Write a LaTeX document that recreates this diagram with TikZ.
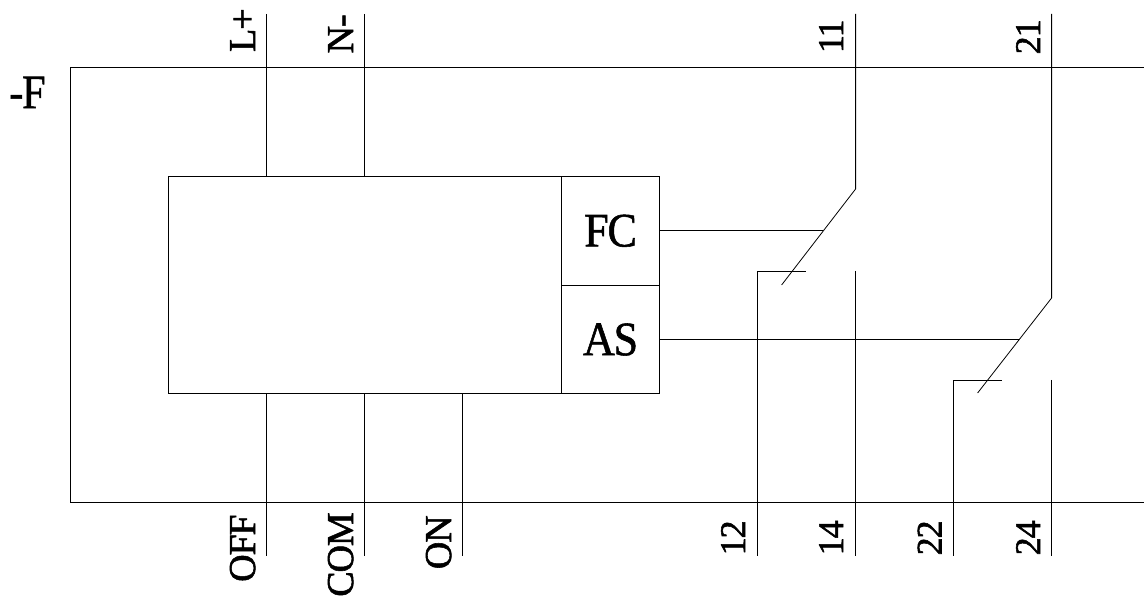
\documentclass[tikz,border=0pt]{standalone}
\usepackage{fontspec}
\setmainfont[LetterSpace=-3]{Liberation Serif}
\newcommand\fattxt[1]{\special{pdf:code q 2 Tr 0.55 w}#1\special{pdf:code Q}}
\begin{document}
\begin{tikzpicture}[x=1pt,y=-1pt,line width=0.8pt,
 big/.style={inner sep=0pt,font=\fontsize{48}{48}\selectfont},
 vl/.style={inner sep=0pt,font=\fontsize{38}{38}\selectfont,rotate=90,anchor=base east},
 vd/.style={inner sep=0pt,font=\fontsize{36}{36}\selectfont,rotate=90,anchor=base east},
 boxx/.style={draw,inner sep=0pt,anchor=north west}]
\useasboundingbox[fill=white] (0,0) rectangle (1144,601);
% frame
\coordinate (fa) at (1144,67.5);
\coordinate (fb) at (70.7,67.5);
\coordinate (fc) at (70.7,502.3);
\coordinate (fd) at (1144,502.3);
\draw (fa) -- (fb) -- (fc) -- (fd);
\node[big] (F) at (27.5,92.5) {\fattxt{\scalebox{.88}[1]{-F}}};
% boxes
\node[boxx,minimum width=392.7pt,minimum height=217.5pt] (main) at (168.3,175.9) {};
\node[boxx,minimum width=98.3pt,minimum height=109pt,big] (fcb) at (561,175.9) {\fattxt{\scalebox{.92}[1]{FC}}};
\node[boxx,minimum width=98.3pt,minimum height=108.5pt,big] (asb) at (561,284.9) {\fattxt{\scalebox{.92}[1]{AS}}};
% terminals
\coordinate (tL) at (266.6,14); \coordinate (tN) at (364.6,14);
\coordinate (mL) at (266.6,175.9); \coordinate (mN) at (364.6,175.9);
\draw (tL) -- (mL); \draw (tN) -- (mN);
\coordinate (bOFF) at (266.6,556); \coordinate (bCOM) at (364.6,556); \coordinate (bON) at (462.6,556);
\coordinate (mOFF) at (266.6,393.4); \coordinate (mCOM) at (364.6,393.4); \coordinate (mON) at (462.6,393.4);
\draw (mOFF) -- (bOFF); \draw (mCOM) -- (bCOM); \draw (mON) -- (bON);
\node[vl] (lL) at (255,8) {\fattxt{L+}};
\node[vl] (lN) at (353,14) {\fattxt{N-}};
\node[vd] (l11) at (843,19) {\fattxt{11}};
\node[vd] (l21) at (1040,19) {\fattxt{21}};
\node[vl] (lOFF) at (255,514) {\fattxt{OFF}};
\node[vl] (lCOM) at (353,512) {\fattxt{COM}};
\node[vl] (lON) at (451,515) {\fattxt{ON}};
\node[vd] (l12) at (745,520) {\fattxt{12}};
\node[vd] (l14) at (843,520) {\fattxt{14}};
\node[vd] (l22) at (941.5,520) {\fattxt{22}};
\node[vd] (l24) at (1040,520) {\fattxt{24}};
% contact 1
\coordinate (a1) at (855.6,14); \coordinate (a2) at (855.6,189); \coordinate (a3) at (781.6,285);
\draw (a1) -- (a2) -- (a3);
\coordinate (b1) at (805.6,271); \coordinate (b2) at (757.6,271); \coordinate (b3) at (757.6,556);
\draw (b1) -- (b2) -- (b3);
\coordinate (c1) at (855.6,271); \coordinate (c2) at (855.6,556);
\draw (c1) -- (c2);
\coordinate (k1) at (823,230.5);
\draw (fcb.east |- k1) -- (k1);
% contact 2
\coordinate (d1) at (1051.6,14); \coordinate (d2) at (1051.6,298); \coordinate (d3) at (977.6,393);
\draw (d1) -- (d2) -- (d3);
\coordinate (e1) at (1001.6,380); \coordinate (e2) at (953.6,380); \coordinate (e3) at (953.6,556);
\draw (e1) -- (e2) -- (e3);
\coordinate (g1) at (1051.6,380); \coordinate (g2) at (1051.6,556);
\draw (g1) -- (g2);
\coordinate (k2) at (1019,339.5);
\draw (asb.east |- k2) -- (k2);
\end{tikzpicture}
\end{document}
